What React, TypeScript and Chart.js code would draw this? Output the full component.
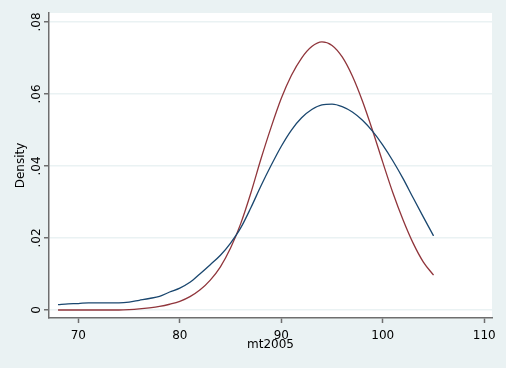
import React, { useEffect, useRef } from "react";
import { Chart, registerables } from "chart.js";

Chart.register(...registerables);

const xValues = [68, 69, 70, 71, 72, 73, 74, 75, 76, 77, 78, 79, 80, 81, 82, 83, 84, 85, 86, 87, 88, 89, 90, 91, 92, 93, 94, 95, 96, 97, 98, 99, 100, 101, 102, 103, 104, 105];

const kernelDensity = [0.0015, 0.0017, 0.0018, 0.002, 0.002, 0.002, 0.002, 0.0022, 0.0027, 0.0032, 0.0038, 0.005, 0.0061, 0.0077, 0.0101, 0.0126, 0.0152, 0.0186, 0.0228, 0.0284, 0.0345, 0.0402, 0.0455, 0.05, 0.0534, 0.0557, 0.057, 0.0572, 0.0565, 0.055, 0.0527, 0.0496, 0.0458, 0.0414, 0.0365, 0.0311, 0.0258, 0.0206];

const normalDensity = [0, 0, 0, 0, 0, 0, 0, 0.0001, 0.0003, 0.0006, 0.001, 0.0016, 0.0024, 0.0037, 0.0056, 0.0083, 0.012, 0.0172, 0.024, 0.0325, 0.042, 0.0508, 0.0588, 0.0652, 0.07, 0.0732, 0.0745, 0.0735, 0.0703, 0.065, 0.058, 0.0498, 0.041, 0.0325, 0.025, 0.0185, 0.0133, 0.0097];

const xTicks = [70, 80, 90, 100, 110];
const yTicks = [0, 0.02, 0.04, 0.06, 0.08];
const yTickLabels = ["0", ".02", ".04", ".06", ".08"];

const xTitle = "mt2005";
const yTitle = "Density";

const BG = "#eaf2f3";
const AXIS = "#6e6e6e";
const FONT = { family: "'DejaVu Sans', sans-serif", size: 12 };

const plotBg = {
  id: "plotBg",
  beforeDraw(chart: any) {
    const { ctx, chartArea } = chart;
    ctx.save();
    ctx.fillStyle = "#ffffff";
    ctx.fillRect(chartArea.left, chartArea.top, chartArea.right - chartArea.left, chartArea.bottom - chartArea.top);
    ctx.restore();
  },
};

export default function App() {
  const ref = useRef<HTMLCanvasElement | null>(null);

  useEffect(() => {
    document.body.style.margin = "0";
    const canvas = ref.current;
    if (!canvas) return;
    const chart = new Chart(canvas, {
      type: "line",
      data: {
        datasets: [
          {
            data: xValues.map((x, i) => ({ x, y: kernelDensity[i] })),
            borderColor: "#1a476f",
            borderWidth: 1.3,
            pointRadius: 0,
            cubicInterpolationMode: "monotone",
            fill: false,
          },
          {
            data: xValues.map((x, i) => ({ x, y: normalDensity[i] })),
            borderColor: "#90353b",
            borderWidth: 1.3,
            pointRadius: 0,
            cubicInterpolationMode: "monotone",
            fill: false,
          },
        ],
      },
      options: {
        animation: false,
        responsive: false,
        devicePixelRatio: 1,
        layout: { padding: { left: 0, right: 14, top: 13, bottom: 0 } },
        plugins: { legend: { display: false }, tooltip: { enabled: false } },
        scales: {
          x: {
            type: "linear",
            min: 67.11,
            max: 110.76,
            afterBuildTicks: (s: any) => {
              s.ticks = xTicks.map((v) => ({ value: v }));
            },
            afterFit: (s: any) => {
              s.height = 50;
            },
            grid: {
              drawOnChartArea: false,
              drawTicks: true,
              tickLength: 5,
              tickColor: AXIS,
              tickWidth: 1.5,
            },
            border: { color: AXIS, width: 1.5 },
            ticks: {
              font: FONT,
              color: "#000",
              padding: 6,
              maxRotation: 0,
              minRotation: 0,
              callback: (v: any) => String(v),
            },
            title: {
              display: true,
              text: xTitle,
              font: FONT,
              color: "#000",
              padding: { top: 0, bottom: 16 },
            },
          },
          y: {
            type: "linear",
            min: -0.00222,
            max: 0.0825,
            afterBuildTicks: (s: any) => {
              s.ticks = yTicks.map((v) => ({ value: v }));
            },
            afterFit: (s: any) => {
              s.width = 49;
            },
            grid: {
              color: BG,
              lineWidth: 1.5,
              drawTicks: true,
              tickLength: 5,
              tickColor: AXIS,
              tickWidth: 1.5,
            },
            border: { color: AXIS, width: 1.5 },
            ticks: {
              font: FONT,
              color: "#000",
              padding: -2,
              minRotation: 90,
              maxRotation: 90,
              crossAlign: "center",
              callback: (v: any) => {
                const i = yTicks.indexOf(v);
                return i >= 0 ? yTickLabels[i] : "";
              },
            },
            title: {
              display: true,
              text: yTitle,
              font: FONT,
              color: "#000",
              padding: { top: 14, bottom: 0 },
            },
          },
        },
      },
      plugins: [plotBg],
    } as any);
    return () => chart.destroy();
  }, []);

  return (
    <div style={{ width: 506, height: 368, background: BG }}>
      <canvas ref={ref} width={506} height={368} style={{ display: "block" }} />
    </div>
  );
}
